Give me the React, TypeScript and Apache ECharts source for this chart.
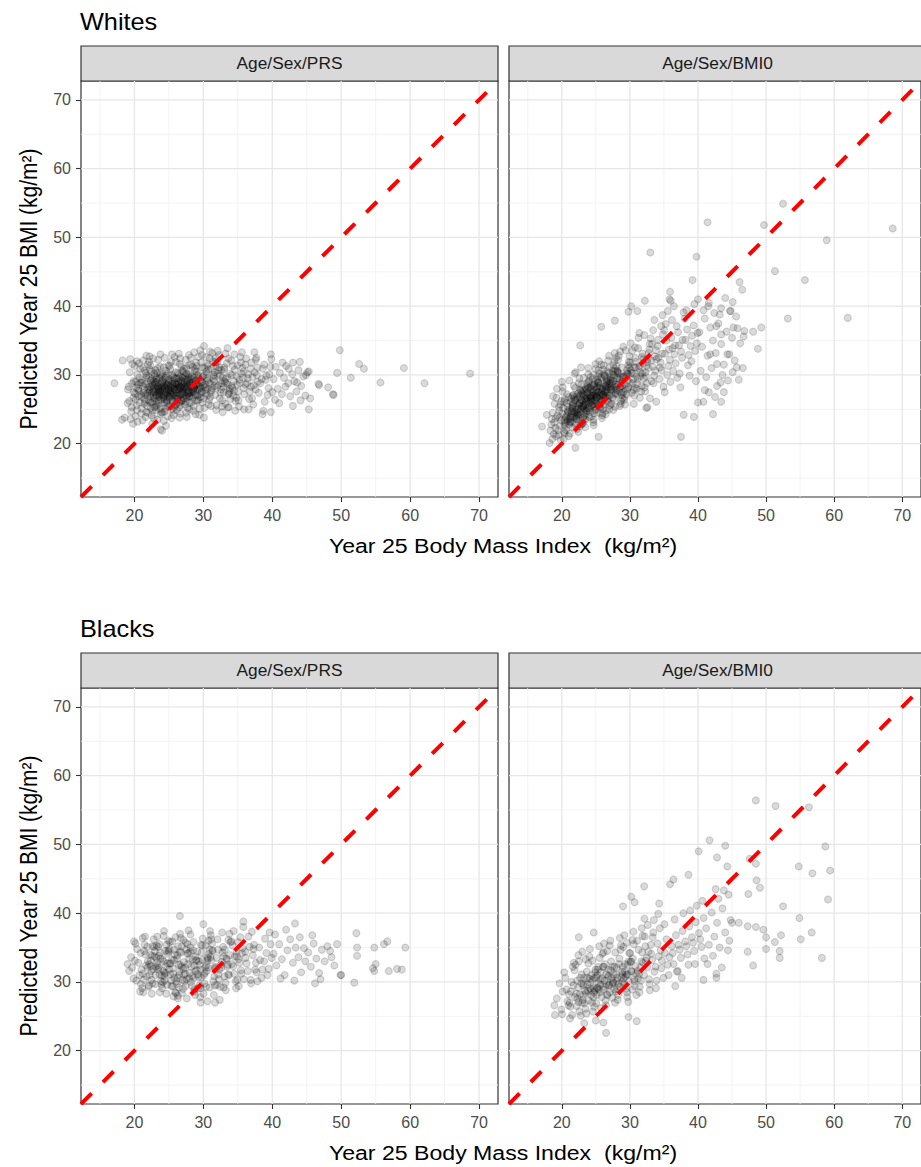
import React, { useEffect, useRef } from "react";
import * as echarts from "echarts";

// ---------- axis / labels ----------
const AXIS_MIN = 12.25;
const AXIS_MAX = 72.75;
const MAJOR_TICKS = [20, 30, 40, 50, 60, 70];
const MINOR_TICKS = [15, 25, 35, 45, 55, 65];
const GROUPS = ["Whites", "Blacks"];
const MODELS = ["Age/Sex/PRS", "Age/Sex/BMI0"];
const X_TITLE = "Year 25 Body Mass Index  (kg/m²)";
const Y_TITLE = "Predicted Year 25 BMI (kg/m²)";

// ---------- data: flat [x, y, x, y, ...] (observed BMI, predicted BMI) ----------
const whitesPRS = [
  17.1,28.8, 18.3,32.1, 18.2,23.5, 18.6,23.8, 19.8,22.9, 23.8,22.1, 24.0,21.9, 22.2,32.7, 30.1,34.2, 33.5,33.9,
  37.4,33.3, 39.8,33.0, 41.5,31.8, 43.0,31.8, 44.0,31.9, 45.3,30.5, 46.7,28.7, 48.1,28.2, 48.8,27.2, 49.8,33.6,
  49.4,30.3, 51.4,29.6, 52.6,31.6, 53.3,30.9, 55.7,28.9, 59.1,31.0, 62.1,28.8, 68.7,30.2, 45.3,25.0, 43.0,25.5,
  44.1,26.3, 39.8,24.6, 38.6,24.3, 33.7,25.3, 35.9,25.0, 40.0,27.5, 45.5,26.6, 45.1,30.4, 46.8,28.5, 48.9,27.1,
  19.07,27.9, 19.62,25.3, 19.31,30.4, 19.85,26.7, 19.44,23.6, 19.93,29.1, 19.18,28.3, 19.71,31.6, 19.53,24.7, 19.26,26.2,
  19.88,27.5, 19.39,32.3, 19.66,28.8, 19.02,25.9,
  20.13,26.4, 20.71,29.6, 20.38,24.9, 20.92,27.1, 20.05,31.3, 20.57,28.0, 20.29,25.6, 20.83,30.9, 20.46,23.2, 20.64,27.7,
  20.21,29.0, 20.99,24.4, 20.35,32.0, 20.77,26.0, 20.52,28.6, 20.09,27.3, 20.68,31.7, 20.41,30.1, 20.88,28.9, 20.16,24.0,
  20.60,26.9, 20.24,28.1,
  21.34,27.4, 21.08,25.1, 21.77,29.9, 21.52,26.1, 21.96,31.5, 21.21,28.4, 21.63,23.9, 21.45,30.6, 21.89,27.0, 21.12,29.3,
  21.70,24.6, 21.28,32.1, 21.57,28.7, 21.03,26.8, 21.84,25.5, 21.39,27.8, 21.66,30.3, 21.18,23.4, 21.93,28.2, 21.49,26.5,
  21.25,31.0, 21.80,29.6, 21.61,27.2, 21.06,28.9, 21.42,25.8, 21.73,32.8,
  22.41,28.1, 22.07,26.3, 22.88,30.2, 22.63,24.8, 22.19,27.6, 22.95,28.8, 22.52,25.9, 22.30,31.4, 22.76,27.0, 22.11,29.7,
  22.58,22.9, 22.84,26.6, 22.26,30.8, 22.69,28.5, 22.02,24.5, 22.47,27.3, 22.91,25.3, 22.35,29.2, 22.73,32.4, 22.15,27.9,
  22.60,26.1, 22.97,29.9, 22.22,28.3, 22.81,23.7, 22.44,30.5, 22.05,28.6, 22.66,27.5, 22.38,25.2, 22.86,28.0, 22.13,31.9,
  22.55,29.4, 22.29,26.9, 22.78,27.7, 22.50,24.1,
  23.12,27.1, 23.66,29.5, 23.39,25.6, 23.91,28.3, 23.05,30.7, 23.48,26.8, 23.82,24.3, 23.27,28.9, 23.71,31.2, 23.16,26.0,
  23.57,27.8, 23.94,29.8, 23.33,23.5, 23.62,27.4, 23.08,28.6, 23.45,32.2, 23.87,26.4, 23.21,29.3, 23.74,25.1, 23.53,28.1,
  23.98,27.2, 23.30,30.3, 23.69,27.6, 23.11,24.9, 23.42,28.4, 23.79,30.0, 23.24,27.0, 23.60,25.8, 23.86,28.7, 23.03,29.0,
  23.50,26.3, 23.77,33.0, 23.19,28.0, 23.64,26.9, 23.36,31.0, 23.90,24.6, 23.44,27.9, 23.13,25.4,
  24.23,28.5, 24.71,26.2, 24.06,30.1, 24.52,27.5, 24.87,29.2, 24.34,24.7, 24.61,28.0, 24.15,26.6, 24.94,31.4, 24.42,28.8,
  24.78,25.4, 24.01,27.8, 24.57,30.6, 24.28,23.3, 24.83,27.0, 24.46,29.6, 24.12,28.2, 24.67,25.9, 24.39,32.5, 24.91,28.4,
  24.20,26.8, 24.75,27.3, 24.55,29.9, 24.04,24.5, 24.31,27.1, 24.88,30.2, 24.63,26.4, 24.17,29.3, 24.49,25.1, 24.80,28.6,
  24.26,31.1, 24.70,27.7, 24.09,28.9, 24.36,26.0, 24.97,27.9, 24.58,22.6, 24.44,28.3, 24.85,24.0,
  25.35,28.2, 25.09,26.7, 25.82,29.5, 25.56,27.1, 25.21,30.8, 25.95,25.6, 25.47,28.7, 25.68,24.2, 25.14,27.6, 25.89,28.9,
  25.30,31.9, 25.61,26.3, 25.04,29.4, 25.76,27.9, 25.42,25.0, 25.98,30.4, 25.25,28.4, 25.53,26.0, 25.85,32.6, 25.17,27.3,
  25.72,28.1, 25.39,23.7, 25.64,29.7, 25.07,25.5, 25.93,27.0, 25.48,30.0, 25.20,26.9, 25.79,25.3, 25.58,28.5, 25.12,31.3,
  25.87,26.6, 25.33,29.1, 25.70,27.4, 25.44,33.0, 25.01,28.0, 25.66,24.8, 25.91,28.3, 25.27,27.7,
  26.18,28.6, 26.73,27.2, 26.45,30.1, 26.06,25.8, 26.92,28.9, 26.31,26.5, 26.59,31.6, 26.84,27.7, 26.13,29.5, 26.67,24.4,
  26.39,28.2, 26.97,30.6, 26.24,27.0, 26.52,25.3, 26.79,29.2, 26.02,31.9, 26.48,27.9, 26.88,26.2, 26.35,28.5, 26.63,32.4,
  26.10,26.9, 26.76,29.8, 26.55,23.8, 26.21,28.0, 26.94,27.4, 26.42,29.0, 26.69,25.6, 26.27,30.3, 26.86,28.3, 26.08,27.5,
  26.50,26.0, 26.81,31.2, 26.37,28.8, 26.60,27.1, 26.15,24.9, 26.99,29.6, 26.44,33.1, 26.71,28.1,
  27.26,28.9, 27.58,26.8, 27.04,30.5, 27.83,27.6, 27.41,29.3, 27.69,25.2, 27.15,28.1, 27.93,31.4, 27.37,27.0, 27.62,28.6,
  27.09,26.3, 27.88,29.7, 27.50,24.5, 27.22,30.9, 27.75,28.4, 27.44,32.2, 27.97,26.9, 27.12,27.8, 27.66,29.1, 27.31,25.7,
  27.80,28.8, 27.55,30.2, 27.02,27.3, 27.48,26.1, 27.91,32.9, 27.19,29.5, 27.72,27.1, 27.35,28.3, 27.60,23.9, 27.85,30.0,
  27.07,28.0, 27.53,31.0, 27.28,26.6, 27.77,27.5, 27.40,29.9, 27.95,25.0,
  28.47,29.0, 28.11,27.4, 28.79,30.6, 28.28,26.0, 28.63,28.4, 28.95,31.8, 28.04,28.9, 28.55,24.8, 28.36,29.8, 28.86,27.1,
  28.19,32.5, 28.71,28.2, 28.42,26.7, 28.08,30.1, 28.91,28.7, 28.60,25.5, 28.25,29.4, 28.83,30.9, 28.50,27.7, 28.14,28.5,
  28.68,33.3, 28.33,27.0, 28.97,26.3, 28.45,31.2, 28.02,25.9, 28.76,29.2, 28.58,28.0, 28.22,31.5, 28.88,24.3, 28.39,27.9,
  28.66,29.6, 28.17,28.1,
  29.58,29.3, 29.14,27.8, 29.83,31.1, 29.32,26.4, 29.71,28.9, 29.06,30.5, 29.47,25.1, 29.92,29.7, 29.25,32.6, 29.63,28.1,
  29.38,27.2, 29.89,26.0, 29.10,29.9, 29.55,33.6, 29.77,27.6, 29.20,28.6, 29.68,31.8, 29.42,24.2, 29.96,28.4, 29.29,30.0,
  29.51,26.8, 29.85,29.0, 29.03,31.3, 29.66,27.4, 29.35,29.5, 29.80,32.9, 29.17,26.2, 29.45,28.3,
  30.27,28.6, 30.73,30.8, 30.06,26.6, 30.52,29.5, 30.91,32.4, 30.38,27.3, 30.64,31.3, 30.15,25.2, 30.82,28.9, 30.47,30.1,
  30.09,23.8, 30.58,29.2, 30.95,33.4, 30.33,27.8, 30.70,31.6, 30.20,28.2, 30.86,26.4, 30.43,30.5, 30.61,28.0, 30.02,29.9,
  30.78,25.7, 30.36,32.6, 30.55,27.0, 30.13,31.0,
  31.44,29.4, 31.09,27.5, 31.78,31.3, 31.25,28.1, 31.62,30.4, 31.93,25.6, 31.37,32.0, 31.05,28.7, 31.71,27.1, 31.52,29.8,
  31.18,30.9, 31.86,24.9, 31.30,33.2, 31.66,28.4, 31.01,26.8, 31.49,30.0, 31.82,31.9, 31.21,27.8, 31.57,29.1, 31.97,28.2,
  31.12,25.5, 31.74,32.5,
  32.18,28.5, 32.63,30.7, 32.39,26.6, 32.85,29.6, 32.04,31.8, 32.51,27.4, 32.27,32.9, 32.94,28.3, 32.70,25.4, 32.12,30.2,
  32.46,29.2, 32.81,24.6, 32.33,31.1, 32.58,27.9, 32.09,33.5, 32.76,26.3, 32.22,30.7, 32.67,28.8, 32.97,27.5, 32.43,29.9,
  33.27,29.4, 33.71,27.2, 33.06,31.1, 33.55,28.6, 33.88,30.2, 33.16,25.8, 33.62,32.4, 33.35,28.8, 33.92,26.5, 33.45,29.7,
  33.01,30.8, 33.79,27.6, 33.23,33.1, 33.58,25.3, 33.84,28.0, 33.40,31.7, 33.12,29.0, 33.66,27.3,
  34.12,28.4, 34.57,30.8, 34.33,27.0, 34.86,29.8, 34.05,32.1, 34.68,26.2, 34.41,29.1, 34.94,31.4, 34.21,28.1, 34.77,26.7,
  34.50,33.0, 34.15,30.0, 34.62,24.8, 34.89,28.6, 34.28,31.3, 34.46,27.7,
  35.23,29.3, 35.68,31.0, 35.04,27.6, 35.51,30.2, 35.86,28.1, 35.37,32.6, 35.12,26.3, 35.77,29.6, 35.45,31.8, 35.94,27.2,
  35.29,28.8, 35.60,33.3, 35.18,25.4, 35.83,30.5,
  36.35,28.8, 36.08,31.5, 36.74,27.6, 36.52,30.1, 36.91,28.3, 36.21,32.4, 36.63,26.5, 36.44,29.5, 36.86,30.9, 36.14,28.6,
  36.58,25.0, 36.97,31.8,
  37.13,29.7, 37.56,27.9, 37.84,31.1, 37.32,28.5, 37.69,32.5, 37.07,26.6, 37.45,30.4, 37.91,29.0, 37.25,25.7, 37.78,30.0,
  37.60,32.2,
  38.25,28.8, 38.62,30.9, 38.04,27.4, 38.83,31.5, 38.47,29.4, 38.91,26.1, 39.14,29.9, 39.46,28.1, 39.71,31.2, 39.33,27.1,
  39.87,32.3, 39.05,29.3, 39.58,30.1, 38.70,24.8,
  40.2,29.4, 40.5,31.2, 40.8,28.0, 41.1,30.3, 41.4,27.2, 41.7,29.6, 42.0,31.3, 42.3,28.8, 42.6,26.9, 42.9,30.1,
  43.2,29.1, 43.5,27.6, 43.8,30.7, 44.2,28.4, 44.5,29.8, 44.8,27.0, 41.0,25.9, 41.9,28.3, 40.4,26.4, 42.4,30.9,
  43.6,28.9, 44.9,30.0,
  22.9,27.6, 23.4,28.2, 24.1,27.7, 24.7,28.6, 25.2,27.4, 25.8,28.0, 26.3,27.3, 26.9,28.5, 27.5,27.9, 28.1,28.7,
  28.6,27.5, 23.0,26.7, 23.7,27.1, 24.4,26.5, 25.0,28.9, 25.6,29.3, 26.2,26.6, 26.7,29.1, 27.3,28.2, 27.9,27.3,
  28.4,28.9, 29.0,28.5, 22.6,28.8, 23.2,29.6, 24.0,29.0, 24.9,26.9, 25.5,26.2, 26.0,27.8, 26.6,28.3, 27.1,26.7,
  27.7,29.4, 28.3,27.6, 28.9,29.2, 29.4,28.0, 21.9,27.4, 22.3,26.0, 23.5,27.5, 24.5,28.1, 25.3,27.2, 26.4,29.5,
  27.2,27.4, 28.0,26.9, 29.1,27.0, 22.8,29.1, 24.2,27.0, 25.9,28.7, 26.8,26.3, 27.6,28.3, 28.7,28.1, 23.8,28.0,
];

const whitesBMI0 = [
  52.5,54.9, 41.4,52.2, 49.7,51.8, 68.6,51.3, 58.9,49.6, 33.0,47.8, 39.8,47.2, 51.3,45.1, 55.7,43.8, 39.2,43.8,
  46.1,43.5, 46.5,42.4, 35.9,42.1, 40.0,41.0, 32.2,40.8, 45.1,40.6, 36.0,40.8, 30.2,40.0, 29.8,39.2, 31.1,39.3,
  41.5,40.0, 43.4,39.7, 44.7,39.3, 53.2,38.2, 62.0,38.3, 27.8,37.9, 25.8,37.0, 42.7,37.1, 45.2,36.9, 46.8,36.4,
  48.1,36.3, 49.3,36.9, 48.8,33.8, 46.7,35.6, 43.4,35.9, 22.7,34.3, 45.7,31.1, 45.1,30.4, 44.3,33.0, 41.8,33.0,
  42.8,31.6, 43.3,28.9, 41.6,27.5, 42.2,24.3, 43.4,26.1, 39.4,23.9, 40.8,26.1, 37.9,24.2, 37.5,21.0, 32.4,25.2,
  22.0,19.4, 25.4,21.0,
  18.21,20.1, 18.47,22.8, 18.66,24.5, 18.83,21.4, 18.55,23.6, 18.94,25.8, 18.34,21.9, 18.72,26.9, 18.90,23.1, 18.61,20.7,
  17.10,22.5, 17.80,24.2,
  19.06,22.3, 19.37,24.1, 19.52,21.3, 19.78,25.7, 19.91,23.4, 19.23,26.7, 19.45,22.0, 19.64,24.8, 19.83,20.5, 19.12,23.7,
  19.29,28.0, 19.58,25.3, 19.73,22.6, 19.96,26.2, 19.17,21.1, 19.68,23.8,
  20.08,24.4, 20.62,22.0, 20.35,26.1, 20.84,23.3, 20.21,25.2, 20.77,27.2, 20.44,21.5, 20.93,24.6, 20.15,28.2, 20.56,23.1,
  20.71,25.9, 20.28,20.7, 20.99,26.8, 20.50,22.6, 20.03,29.0, 20.66,24.0, 20.39,22.8, 20.88,25.4, 20.12,27.6, 20.59,23.8,
  20.32,21.7, 20.80,24.3, 20.47,26.5, 20.95,23.6,
  21.42,24.7, 21.07,22.8, 21.86,26.4, 21.29,23.8, 21.63,25.7, 21.95,28.1, 21.18,21.5, 21.51,25.1, 21.74,27.1, 21.33,23.3,
  21.90,24.1, 21.12,29.2, 21.58,22.4, 21.81,26.8, 21.24,23.1, 21.69,25.9, 21.03,21.1, 21.47,24.4, 21.78,28.4, 21.36,26.1,
  21.55,25.2, 21.99,22.9, 21.21,23.6, 21.64,27.0, 21.88,30.2, 21.15,24.9, 21.40,26.6, 21.72,23.9,
  22.09,25.3, 22.53,23.2, 22.81,27.1, 22.27,24.3, 22.68,26.0, 22.94,28.6, 22.16,22.1, 22.45,25.8, 22.73,27.7, 22.38,23.9,
  22.02,24.7, 22.59,29.5, 22.86,22.8, 22.21,26.9, 22.64,22.5, 22.97,26.3, 22.33,24.2, 22.77,25.0, 22.49,28.8, 22.12,24.0,
  22.55,25.6, 22.89,27.5, 22.24,23.6, 22.70,27.9, 22.42,21.7, 22.06,30.4, 22.61,25.9, 22.91,25.3, 22.30,26.6, 22.83,31.1,
  22.18,25.0, 22.50,24.6, 22.75,26.4, 22.36,27.3,
  23.47,25.7, 23.11,23.8, 23.82,27.5, 23.26,25.1, 23.69,26.8, 23.94,29.0, 23.03,22.9, 23.58,26.1, 23.77,28.4, 23.35,24.2,
  23.16,25.5, 23.88,30.1, 23.52,23.5, 23.74,27.3, 23.08,23.0, 23.41,27.1, 23.63,24.7, 23.97,25.9, 23.22,29.6, 23.55,26.5,
  23.31,24.0, 23.85,28.1, 23.14,25.3, 23.66,28.7, 23.43,22.4, 23.91,31.0, 23.28,25.6, 23.60,26.3, 23.05,27.8, 23.79,26.6,
  23.37,23.6, 23.70,24.8, 23.19,26.9, 23.50,28.0, 23.83,25.2, 23.25,27.6,
  24.31,26.2, 24.76,24.4, 24.09,28.2, 24.58,25.7, 24.92,27.1, 24.22,29.7, 24.67,23.5, 24.43,26.9, 24.85,28.8, 24.14,25.1,
  24.54,26.1, 24.97,30.9, 24.36,24.0, 24.71,27.8, 24.05,23.9, 24.48,27.4, 24.82,25.4, 24.27,26.6, 24.61,30.0, 24.19,27.0,
  24.89,24.9, 24.40,28.5, 24.74,25.8, 24.02,29.1, 24.63,23.1, 24.95,31.6, 24.33,26.3, 24.51,27.0, 24.80,28.3, 24.12,26.8,
  24.69,22.7, 24.45,25.5, 24.25,27.9, 24.87,26.5, 24.57,29.4, 24.16,24.6,
  25.18,26.9, 25.64,25.2, 25.39,28.8, 25.87,26.1, 25.07,27.8, 25.52,30.2, 25.93,24.1, 25.28,27.5, 25.71,29.6, 25.46,25.6,
  25.12,26.7, 25.80,31.5, 25.35,24.5, 25.59,28.5, 25.97,24.4, 25.24,28.2, 25.68,25.9, 25.03,27.3, 25.43,30.7, 25.84,27.6,
  25.56,25.4, 25.20,29.3, 25.75,26.4, 25.32,29.8, 25.90,23.7, 25.49,32.0, 25.15,26.8, 25.62,28.1, 25.37,28.9, 25.78,27.4,
  25.05,25.0, 25.54,27.0, 25.26,28.4, 25.95,27.9,
  26.57,27.7, 26.13,25.7, 26.84,29.2, 26.35,26.8, 26.71,28.6, 26.04,30.8, 26.49,24.8, 26.92,28.1, 26.22,30.1, 26.66,26.2,
  26.38,27.4, 26.81,32.1, 26.10,25.1, 26.54,29.4, 26.96,25.0, 26.29,28.7, 26.75,26.6, 26.44,27.9, 26.17,31.4, 26.62,28.2,
  26.88,26.0, 26.31,29.8, 26.08,27.2, 26.69,30.5, 26.46,24.3, 26.93,32.8, 26.25,27.6, 26.60,29.1, 26.78,27.0, 26.41,28.4,
  26.02,26.4, 26.53,26.9,
  27.14,28.2, 27.68,26.5, 27.39,30.1, 27.91,27.4, 27.23,29.3, 27.57,31.4, 27.85,25.4, 27.32,28.8, 27.76,30.9, 27.05,27.0,
  27.47,28.1, 27.96,32.5, 27.28,25.8, 27.63,30.0, 27.10,25.6, 27.52,29.5, 27.81,27.2, 27.36,28.4, 27.72,32.0, 27.19,29.1,
  27.44,26.7, 27.88,30.5, 27.61,27.8, 27.02,31.1, 27.55,24.9, 27.79,33.2, 27.25,27.9, 27.93,28.6,
  28.36,28.8, 28.82,27.1, 28.13,30.6, 28.55,28.2, 28.94,29.7, 28.27,32.2, 28.66,25.8, 28.44,29.4, 28.07,31.3, 28.75,27.4,
  28.31,28.6, 28.58,33.4, 28.88,26.6, 28.20,30.5, 28.71,26.2, 28.49,30.1, 28.03,27.8, 28.92,29.0, 28.39,32.8, 28.62,29.7,
  28.16,27.2, 28.78,31.1, 28.52,25.5, 28.25,30.3, 28.85,28.4, 28.43,27.6,
  29.43,29.7, 29.08,27.5, 29.76,31.4, 29.27,28.6, 29.61,30.3, 29.94,32.7, 29.18,26.4, 29.52,30.1, 29.85,31.9, 29.34,28.0,
  29.69,29.2, 29.04,34.1, 29.47,27.2, 29.90,31.1, 29.22,26.8, 29.58,30.7, 29.81,28.2, 29.12,29.8, 29.38,33.6, 29.73,30.1,
  29.29,25.7, 29.64,27.9,
  30.24,30.3, 30.71,28.1, 30.05,31.8, 30.48,29.4, 30.87,31.1, 30.33,33.5, 30.62,27.0, 30.16,30.7, 30.79,32.5, 30.41,28.8,
  30.93,29.8, 30.12,34.6, 30.56,27.8, 30.84,31.9, 30.28,27.4, 30.67,31.1, 30.02,28.9, 30.45,30.2, 30.76,34.0, 30.59,25.8,
  31.33,30.9, 31.08,28.7, 31.77,32.6, 31.52,29.8, 31.91,31.7, 31.20,33.9, 31.64,27.6, 31.41,31.3, 31.86,33.1, 31.15,29.4,
  31.58,30.4, 31.27,35.4, 31.72,28.4, 31.95,32.3, 31.04,28.0, 31.47,26.7, 31.83,30.2, 31.38,36.1,
  32.41,31.3, 32.07,29.5, 32.76,33.2, 32.28,30.4, 32.62,32.3, 32.91,34.5, 32.18,28.2, 32.53,31.9, 32.85,33.7, 32.35,29.8,
  32.69,31.0, 32.12,35.8, 32.47,28.8, 32.96,26.6, 32.24,27.6, 32.58,25.3,
  33.14,32.1, 33.56,29.9, 33.83,33.6, 33.37,31.2, 33.68,32.7, 33.05,35.3, 33.49,28.8, 33.91,32.3, 33.26,34.5, 33.72,30.6,
  33.42,36.5, 33.19,29.1, 33.87,26.1, 33.60,38.0,
  34.22,32.5, 34.67,30.7, 34.08,34.2, 34.51,31.8, 34.86,35.9, 34.35,29.4, 34.74,33.1, 34.16,35.1, 34.59,37.1, 34.93,28.3,
  34.41,31.1, 34.80,38.7,
  35.16,33.1, 35.63,31.3, 35.37,35.0, 35.88,32.2, 35.05,36.5, 35.49,30.0, 35.74,33.7, 35.27,37.4, 35.94,29.0, 35.58,39.3,
  35.81,41.0, 35.11,27.5,
  36.27,33.9, 36.72,31.7, 36.09,35.4, 36.55,33.0, 36.88,37.1, 36.36,30.6, 36.63,34.3, 36.18,38.0, 36.95,29.6, 36.47,40.0,
  37.21,34.3, 37.66,32.5, 37.08,36.2, 37.53,33.4, 37.89,39.1, 37.32,30.2, 37.74,35.1, 37.43,28.2,
  38.17,35.1, 38.62,32.9, 38.39,36.6, 38.91,34.2, 38.05,38.2, 38.53,31.4, 38.78,29.9, 38.29,39.4, 39.12,35.7, 39.58,33.5,
  39.36,37.2, 39.84,34.6, 39.04,32.0, 39.47,40.3, 39.71,29.1, 39.93,36.1,
  40.2,36.2, 40.6,34.1, 41.0,38.2, 41.4,32.8, 41.8,36.9, 42.2,35.0, 42.6,33.2, 43.0,37.5, 43.4,34.5, 43.8,31.5,
  44.2,36.3, 44.6,33.0, 45.0,35.4, 45.4,32.1, 45.8,36.8, 46.2,34.6, 46.6,31.0, 40.4,30.6, 41.2,29.7, 42.0,31.0,
  42.8,28.4, 43.6,30.0, 44.4,29.2, 40.8,39.4, 41.6,40.5, 42.4,39.0, 43.2,38.8, 44.0,41.2, 44.8,39.3, 45.6,38.5,
  40.0,26.0, 41.0,27.8, 42.5,26.8, 43.8,27.5, 46.0,29.3,
  21.3,24.0, 21.8,24.6, 22.4,25.0, 22.9,25.5, 23.3,25.9, 23.8,26.2, 24.3,26.7, 24.8,27.0, 25.4,27.5, 25.9,28.0,
  26.4,28.4, 27.0,28.8, 27.6,29.1, 28.2,29.5, 21.5,23.1, 22.1,23.6, 22.7,24.3, 23.2,24.6, 23.9,25.1, 24.4,25.6,
  24.9,26.3, 25.5,26.4, 26.1,26.8, 26.7,27.4, 27.3,27.8, 27.9,28.3, 28.6,28.2, 22.0,26.3, 22.6,26.8, 23.1,27.3,
  23.7,27.9, 24.2,28.0, 24.7,28.6, 25.3,29.0, 25.8,29.7, 26.3,29.9, 26.9,30.3, 27.5,30.6, 20.9,24.8, 21.6,25.5,
  23.5,24.9, 24.6,27.5, 25.7,27.0, 26.6,28.9, 20.4,23.4, 22.2,24.5, 23.4,26.6, 25.1,25.9, 26.0,27.1, 27.2,29.6,
];

const blacksPRS = [
  26.6,39.6, 30.0,38.4, 35.8,38.8, 43.3,38.5, 52.2,37.1, 56.7,35.9, 56.2,35.5, 59.3,35.0, 54.8,35.0, 52.3,35.0,
  52.3,33.8, 48.4,34.5, 55.0,32.6, 54.8,31.6, 56.9,31.6, 58.1,31.9, 58.8,31.8, 50.0,31.0, 51.9,29.9, 19.0,32.6,
  21.2,36.4, 24.3,37.4, 28.7,28.9, 26.3,28.0, 29.6,27.0, 31.7,27.0, 26.3,27.6, 30.6,27.2, 49.9,31.0, 54.6,32.0,
  19.23,31.6, 19.51,33.6, 19.87,30.5, 20.06,33.1, 20.38,34.8, 20.74,31.0, 20.95,29.7, 20.17,35.6, 20.59,32.8, 20.83,28.6,
  19.66,32.1, 20.29,30.2, 20.91,34.2, 19.94,35.9,
  21.04,31.8, 21.37,30.3, 21.59,34.0, 21.22,31.2, 21.86,35.1, 21.13,29.1, 21.47,35.4, 21.68,32.4, 21.79,30.8, 21.95,33.0,
  21.28,28.5, 21.53,36.6, 21.91,32.1, 21.41,34.5,
  22.14,32.6, 22.47,30.3, 22.29,34.0, 22.73,31.9, 22.58,33.8, 22.06,29.3, 22.86,35.1, 22.38,33.1, 22.65,29.8, 22.97,34.5,
  22.22,31.0, 22.51,28.3, 22.79,36.2, 22.33,32.3, 22.91,33.7, 22.09,29.5, 22.62,35.2, 22.44,31.6,
  23.37,32.4, 23.08,31.0, 23.74,34.3, 23.52,32.1, 23.19,33.5, 23.93,29.6, 23.61,35.5, 23.26,32.8, 23.84,30.1, 23.45,35.1,
  23.12,32.2, 23.68,28.5, 23.31,36.6, 23.97,30.9, 23.55,33.8, 23.03,29.7, 23.79,33.4, 23.42,31.8, 23.65,31.1, 23.22,35.3,
  24.55,32.3, 24.11,30.0, 24.83,34.1, 24.36,31.3, 24.67,35.4, 24.02,29.1, 24.91,36.0, 24.28,33.0, 24.73,29.6, 24.45,34.5,
  24.19,31.6, 24.62,28.3, 24.87,34.6, 24.33,30.9, 24.08,33.3, 24.58,31.3, 24.25,36.7, 24.79,32.7, 24.41,30.2, 24.96,34.4,
  25.26,32.7, 25.63,31.2, 25.09,34.8, 25.77,30.6, 25.44,33.2, 25.92,28.5, 25.15,35.8, 25.58,32.0, 25.36,29.4, 25.81,34.7,
  25.04,31.8, 25.69,27.9, 25.49,35.9, 25.21,31.1, 25.86,34.0, 25.31,30.2, 25.74,33.2, 25.55,29.4, 25.12,32.7, 25.96,36.5,
  26.41,32.5, 26.07,30.1, 26.78,34.3, 26.53,31.5, 26.22,33.9, 26.91,28.4, 26.34,35.2, 26.66,32.5, 26.15,29.7, 26.87,35.2,
  26.48,31.0, 26.03,28.4, 26.72,36.4, 26.29,30.6, 26.59,34.4, 26.95,30.3, 26.18,33.4, 26.82,32.2, 26.44,29.2, 26.63,37.0,
  27.18,32.9, 27.55,30.4, 27.82,34.2, 27.33,32.1, 27.67,34.1, 27.04,29.0, 27.46,35.7, 27.90,33.3, 27.27,30.1, 27.71,35.5,
  27.39,31.2, 27.60,27.6, 27.11,36.1, 27.95,30.5, 27.50,34.7, 27.23,31.1, 27.77,32.6, 27.42,29.4, 27.07,31.9, 27.86,37.5,
  28.27,32.2, 28.63,30.6, 28.09,34.4, 28.84,31.6, 28.45,33.3, 28.71,28.6, 28.16,35.0, 28.92,33.1, 28.36,29.4, 28.58,35.8,
  28.04,31.3, 28.79,28.1, 28.52,34.6, 28.21,30.0, 28.88,33.7, 28.40,30.9, 28.13,36.9, 28.67,32.4,
  29.36,33.0, 29.71,30.7, 29.12,34.4, 29.58,31.8, 29.88,33.2, 29.24,29.1, 29.65,35.4, 29.03,33.2, 29.47,29.5, 29.83,35.3,
  29.18,31.1, 29.55,27.8, 29.92,36.3, 29.31,30.7, 29.76,34.3, 29.08,31.7, 29.43,32.5, 29.62,29.1,
  30.44,32.4, 30.09,31.0, 30.81,34.1, 30.26,32.1, 30.67,33.4, 30.93,29.2, 30.35,35.3, 30.58,33.1, 30.14,29.8, 30.75,36.0,
  30.51,31.6, 30.03,28.3, 30.88,34.7, 30.39,29.3, 30.62,33.6, 30.21,31.3, 30.97,37.4, 30.70,32.1,
  31.17,33.2, 31.58,30.8, 31.36,34.5, 31.82,32.2, 31.05,33.6, 31.69,29.5, 31.27,35.6, 31.91,33.5, 31.46,30.1, 31.13,36.2,
  31.75,31.9, 31.52,28.1, 31.31,34.6, 31.97,29.6, 31.62,32.1, 31.08,36.8,
  32.53,32.5, 32.16,31.1, 32.78,34.3, 32.32,31.8, 32.91,33.7, 32.44,29.3, 32.07,36.2, 32.69,32.9, 32.25,30.4, 32.86,35.1,
  32.60,32.1, 32.38,27.4, 32.12,34.7, 32.95,29.2, 32.73,37.2,
  33.35,33.4, 33.72,31.0, 33.13,34.7, 33.56,32.5, 33.87,33.9, 33.21,29.9, 33.64,36.1, 33.42,33.3, 33.06,30.8, 33.93,35.8,
  33.48,32.2, 33.27,28.8, 33.79,37.0, 33.60,31.1,
  34.16,32.6, 34.47,31.2, 34.82,34.4, 34.33,32.3, 34.69,30.1, 34.08,35.9, 34.55,33.7, 34.93,30.3, 34.25,35.3, 34.74,29.1,
  34.40,37.4, 34.88,33.7,
  35.09,33.3, 35.46,31.7, 35.72,34.9, 35.25,32.8, 35.88,30.4, 35.37,36.5, 35.61,34.2, 35.15,29.4, 35.79,38.0, 35.52,31.2,
  35.03,35.8,
  36.12,33.5, 36.46,31.6, 36.71,35.1, 36.28,32.7, 36.87,30.3, 36.55,36.6, 36.06,34.4, 36.93,29.8, 37.18,33.9, 37.52,31.8,
  37.36,35.4, 37.71,31.4, 37.04,37.3, 37.86,30.1, 37.27,34.8, 37.63,32.8,
  38.22,33.2, 38.57,31.8, 38.09,35.0, 38.81,33.0, 38.44,30.6, 38.95,36.3, 39.15,34.2, 39.48,31.9, 39.76,35.5, 39.29,31.0,
  39.61,37.2, 39.92,33.5,
  40.2,34.1, 40.6,32.4, 41.0,35.5, 41.4,33.3, 41.8,31.0, 42.2,34.6, 42.6,36.2, 43.0,32.8, 43.4,35.0, 43.8,33.6,
  44.2,31.4, 44.6,34.9, 40.4,36.9, 41.2,30.5, 42.0,37.6, 43.2,30.2, 44.0,36.5, 44.8,33.0,
  45.2,34.3, 45.6,32.2, 46.0,35.6, 46.4,33.4, 46.8,31.3, 47.2,34.7, 47.6,33.0, 48.0,35.2, 48.6,33.6, 49.0,32.4,
  49.4,35.5, 45.8,36.8, 47.0,30.4, 46.2,29.8,
];

const blacksBMI0 = [
  48.5,56.4, 51.4,55.6, 56.3,55.4, 58.7,49.7, 41.7,50.6, 44.0,49.8, 40.1,49.0, 42.8,48.1, 47.6,47.9, 48.5,47.2,
  54.8,46.8, 59.4,46.2, 56.8,45.8, 44.3,46.8, 38.6,45.6, 36.4,44.9, 35.9,44.2, 32.1,43.9, 48.6,44.8, 49.1,43.7,
  42.6,43.5, 43.8,43.3, 44.5,42.7, 47.4,42.8, 30.2,42.4, 30.7,41.6, 29.0,41.0, 34.3,41.4, 59.1,42.0, 52.5,41.0,
  54.9,39.3, 45.0,38.6, 46.0,38.6, 47.3,38.1, 48.5,38.0, 49.6,37.6, 56.7,37.2, 52.2,36.8, 55.1,36.2, 51.3,35.8,
  50.0,36.5, 50.0,34.8, 52.0,34.5, 52.0,33.5, 58.2,33.5, 47.3,34.4, 48.1,32.4, 43.5,32.1, 42.7,31.2, 42.7,30.6,
  40.8,30.3, 22.5,36.5, 24.7,37.2, 18.9,26.6, 19.0,25.2, 26.5,22.6, 31.0,24.3, 29.8,24.9, 26.1,24.1, 25.0,24.4,
  23.3,24.0,
  19.27,27.6, 19.68,29.8, 19.94,26.0, 20.11,28.6, 20.53,30.6, 20.82,27.2, 20.04,25.3, 20.36,31.4, 20.69,28.9, 20.97,26.6,
  21.06,28.2, 21.43,30.0, 21.27,26.4, 21.71,29.5, 21.88,31.7, 21.15,27.0, 21.52,25.2, 21.34,28.6, 21.79,32.8, 21.96,27.8,
  21.61,32.2, 21.21,24.7,
  22.13,28.3, 22.48,27.1, 22.71,30.6, 22.29,27.6, 22.86,29.8, 22.06,32.5, 22.57,25.7, 22.38,29.2, 22.93,31.1, 22.19,26.5,
  22.65,28.2, 22.44,33.9, 22.79,25.1, 22.25,30.2, 22.97,27.0, 22.52,33.0,
  23.39,28.7, 23.07,27.4, 23.78,30.6, 23.56,28.4, 23.24,29.7, 23.91,32.7, 23.47,26.1, 23.15,29.5, 23.69,31.5, 23.33,26.9,
  23.85,28.7, 23.02,34.4, 23.61,25.4, 23.28,30.6, 23.96,27.3, 23.51,33.3, 23.19,28.1, 23.74,29.6,
  24.18,29.1, 24.63,27.8, 24.37,31.0, 24.86,28.8, 24.09,30.5, 24.52,33.1, 24.77,26.4, 24.26,29.9, 24.94,31.8, 24.43,27.0,
  24.68,29.1, 24.14,34.8, 24.57,25.7, 24.81,30.6, 24.31,28.1, 24.05,33.7, 24.72,28.5, 24.47,30.3, 24.22,28.8, 24.91,31.4,
  25.44,29.8, 25.12,28.1, 25.73,31.4, 25.28,29.2, 25.91,30.5, 25.57,33.5, 25.05,26.9, 25.66,30.3, 25.35,32.2, 25.84,27.8,
  25.19,29.1, 25.49,35.2, 25.78,26.2, 25.23,31.0, 25.62,28.5, 25.96,34.1, 25.41,28.9, 25.09,30.7, 25.70,29.6, 25.31,31.8,
  26.27,30.2, 26.71,28.1, 26.05,32.2, 26.56,29.6, 26.88,30.9, 26.14,34.3, 26.42,27.3, 26.79,30.7, 26.33,32.6, 26.62,28.2,
  26.95,29.5, 26.21,35.6, 26.49,26.6, 26.84,31.8, 26.09,28.9, 26.67,34.5, 26.38,29.3, 26.53,31.1, 26.91,29.6, 26.17,32.2,
  27.33,30.6, 27.08,28.5, 27.75,32.2, 27.51,30.0, 27.19,31.7, 27.86,34.3, 27.42,27.7, 27.64,31.1, 27.25,33.0, 27.93,28.6,
  27.57,29.9, 27.12,36.0, 27.81,27.0, 27.38,32.2, 27.69,28.9, 27.04,35.3, 27.47,29.7, 27.97,31.1,
  28.16,30.6, 28.58,29.3, 28.39,32.6, 28.83,30.0, 28.07,32.1, 28.64,34.7, 28.28,28.1, 28.91,31.1, 28.46,33.4, 28.12,29.0,
  28.75,30.7, 28.53,36.4, 28.21,27.4, 28.97,32.2, 28.34,29.7, 28.69,35.3, 28.02,30.1, 28.87,31.5,
  29.48,31.1, 29.13,29.7, 29.82,33.0, 29.36,30.8, 29.67,32.5, 29.05,35.1, 29.57,28.5, 29.24,31.5, 29.91,34.2, 29.43,29.0,
  29.72,31.1, 29.18,36.8, 29.61,27.8, 29.29,32.6, 29.86,30.1, 29.53,35.7, 29.09,30.5, 29.77,27.1,
  30.22,31.6, 30.67,30.1, 30.44,33.4, 30.91,31.2, 30.13,32.9, 30.58,35.5, 30.36,28.9, 30.82,32.3, 30.05,34.2, 30.73,29.4,
  30.29,31.5, 30.52,37.3, 30.95,28.1, 30.17,33.0, 30.63,30.4, 30.41,36.1,
  31.55,32.1, 31.18,30.5, 31.81,34.3, 31.37,31.2, 31.69,33.0, 31.06,36.0, 31.46,29.3, 31.92,32.8, 31.27,34.7, 31.63,30.2,
  31.12,31.6, 31.75,37.8, 31.41,28.5, 31.87,36.7,
  32.36,33.1, 32.07,31.0, 32.72,34.4, 32.54,32.1, 32.18,36.6, 32.88,29.7, 32.45,33.5, 32.63,38.3, 32.92,28.8, 32.27,35.2,
  32.81,30.4, 32.13,39.2,
  33.26,33.2, 33.61,31.5, 33.08,35.4, 33.77,32.2, 33.44,37.2, 33.92,30.2, 33.15,34.1, 33.53,39.0, 33.84,29.1, 33.35,36.5,
  34.23,33.7, 34.62,32.0, 34.08,35.6, 34.71,33.1, 34.39,37.8, 34.93,30.6, 34.51,34.6, 34.17,39.9,
  35.14,34.2, 35.56,32.5, 35.38,36.2, 35.82,33.6, 35.07,38.4, 35.69,31.0, 36.17,35.2, 36.42,32.6, 36.76,36.8, 36.29,34.2,
  36.58,39.1, 36.91,31.5, 37.13,35.4, 37.49,33.5, 37.72,37.4, 37.31,34.7, 37.86,40.0, 37.04,31.6, 36.66,29.4, 37.61,30.6,
  38.14,35.9, 38.47,34.0, 38.72,38.1, 38.28,35.2, 38.86,40.4, 38.59,32.5, 39.12,36.5, 39.44,34.5, 39.68,38.7, 39.27,35.7,
  39.83,41.1, 39.56,32.6, 40.15,37.1, 40.52,35.1, 40.83,39.3, 40.33,36.2, 40.66,41.8, 40.94,33.4,
  41.2,37.8, 41.6,35.4, 42.0,40.1, 42.4,36.6, 42.8,38.6, 43.2,35.0, 43.6,40.7, 44.0,37.2, 44.4,34.6, 44.8,39.0,
  41.4,32.6, 42.2,33.8, 43.0,42.1, 44.6,36.0,
];

const PANEL_DATA = [whitesPRS, whitesBMI0, blacksPRS, blacksBMI0];

// ---------- layout (pixels) ----------
const PANEL_W = 417;
const PANEL_H = 416;
const PANEL_LEFTS = [81, 509];
const PANEL_TOPS = [81, 688];
const STRIP_H = 35;
const FONT = "'Liberation Sans', Arial, Helvetica, sans-serif";

function toPairs(flat: number[]) {
  const out: number[][] = [];
  for (let i = 0; i + 1 < flat.length; i += 2) out.push([flat[i], flat[i + 1]]);
  return out;
}

function buildOption() {
  const grids: any[] = [];
  const xAxes: any[] = [];
  const yAxes: any[] = [];
  const series: any[] = [];
  const graphics: any[] = [];

  const gridLineData = [
    ...MINOR_TICKS.map((v) => [v, 0, 0]),
    ...MINOR_TICKS.map((v) => [v, 0, 1]),
    ...MAJOR_TICKS.map((v) => [v, 1, 0]),
    ...MAJOR_TICKS.map((v) => [v, 1, 1]),
  ];

  GROUPS.forEach((group, gi) => {
    const top = PANEL_TOPS[gi];
    graphics.push({
      type: "text",
      x: PANEL_LEFTS[0] - 1,
      y: top - STRIP_H - 24,
      scaleX: 1.1,
      style: { text: group, fontSize: 23, fontFamily: FONT, fill: "#000", align: "left", verticalAlign: "middle" },
    });
    graphics.push({
      type: "text",
      x: 29,
      y: top + PANEL_H / 2,
      rotation: Math.PI / 2,
      scaleY: 1.1,
      style: { text: Y_TITLE, fontSize: 21, fontFamily: FONT, fill: "#000", align: "center", verticalAlign: "middle" },
    });
    graphics.push({
      type: "text",
      x: 503,
      y: top + PANEL_H + 49,
      scaleX: 1.1,
      style: { text: X_TITLE, fontSize: 21, fontFamily: FONT, fill: "#000", align: "center", verticalAlign: "middle" },
    });

    MODELS.forEach((model, mi) => {
      const idx = gi * 2 + mi;
      const left = PANEL_LEFTS[mi];
      graphics.push({
        type: "rect",
        shape: { x: left, y: top - STRIP_H, width: PANEL_W, height: STRIP_H },
        style: { fill: "#D9D9D9", stroke: "#333333", lineWidth: 1.2 },
      });
      graphics.push({
        type: "text",
        x: left + PANEL_W / 2,
        y: top - STRIP_H / 2,
        scaleX: 1.05,
        style: { text: model, fontSize: 16.5, fontFamily: FONT, fill: "#1A1A1A", align: "center", verticalAlign: "middle" },
      });

      grids.push({
        left,
        top,
        width: PANEL_W,
        height: PANEL_H,
        show: true,
        backgroundColor: "#FFFFFF",
        borderColor: "#333333",
        borderWidth: 1.2,
        containLabel: false,
      });
      xAxes.push({
        type: "value",
        gridIndex: idx,
        min: AXIS_MIN,
        max: AXIS_MAX,
        axisLine: { show: false },
        axisTick: { show: true, length: 5, lineStyle: { color: "#333333", width: 1.1 }, customValues: MAJOR_TICKS },
        axisLabel: { show: true, customValues: MAJOR_TICKS, color: "#4D4D4D", fontSize: 16, fontFamily: FONT, margin: 10 },
        splitLine: { show: false },
        minorSplitLine: { show: false },
      });
      yAxes.push({
        type: "value",
        gridIndex: idx,
        min: AXIS_MIN,
        max: AXIS_MAX,
        axisLine: { show: false },
        axisTick: { show: mi === 0, length: 5, lineStyle: { color: "#333333", width: 1.1 }, customValues: MAJOR_TICKS },
        axisLabel: { show: mi === 0, customValues: MAJOR_TICKS, color: "#4D4D4D", fontSize: 16, fontFamily: FONT, margin: 10 },
        splitLine: { show: false },
      });

      series.push({
        type: "custom",
        xAxisIndex: idx,
        yAxisIndex: idx,
        z: 1,
        silent: true,
        clip: true,
        encode: { x: 0, y: 0 },
        data: gridLineData,
        renderItem: (_params: any, api: any) => {
          const v = api.value(0);
          const major = api.value(1) === 1;
          const horiz = api.value(2) === 1;
          const p1 = horiz ? api.coord([AXIS_MIN, v]) : api.coord([v, AXIS_MIN]);
          const p2 = horiz ? api.coord([AXIS_MAX, v]) : api.coord([v, AXIS_MAX]);
          return {
            type: "line",
            shape: { x1: p1[0], y1: p1[1], x2: p2[0], y2: p2[1] },
            style: { stroke: major ? "#E6E6E6" : "#F0F0F0", lineWidth: major ? 1.3 : 0.8 },
          };
        },
      });

      series.push({
        type: "scatter",
        xAxisIndex: idx,
        yAxisIndex: idx,
        z: 3,
        silent: true,
        symbol: "circle",
        symbolSize: 7,
        itemStyle: { color: "rgba(0,0,0,0.18)", borderColor: "rgba(0,0,0,0.18)", borderWidth: 1.2 },
        data: toPairs(PANEL_DATA[idx]),
      });

      series.push({
        type: "line",
        xAxisIndex: idx,
        yAxisIndex: idx,
        z: 4,
        silent: true,
        clip: true,
        symbol: "none",
        data: [
          [AXIS_MIN, AXIS_MIN],
          [AXIS_MAX, AXIS_MAX],
        ],
        lineStyle: { color: "#FF0000", width: 4, type: [15, 16], cap: "butt" },
      });
    });
  });

  return {
    animation: false,
    backgroundColor: "#FFFFFF",
    grid: grids,
    xAxis: xAxes,
    yAxis: yAxes,
    series,
    graphic: graphics,
  };
}

export default function App() {
  const ref = useRef<HTMLDivElement>(null);
  useEffect(() => {
    if (!ref.current) return;
    const chart = echarts.init(ref.current, undefined, { renderer: "svg" });
    chart.setOption(buildOption() as any);
    return () => chart.dispose();
  }, []);
  return (
    <div
      ref={ref}
      style={{ position: "absolute", left: 0, top: 0, width: 921, height: 1167, background: "#FFFFFF" }}
    />
  );
}
